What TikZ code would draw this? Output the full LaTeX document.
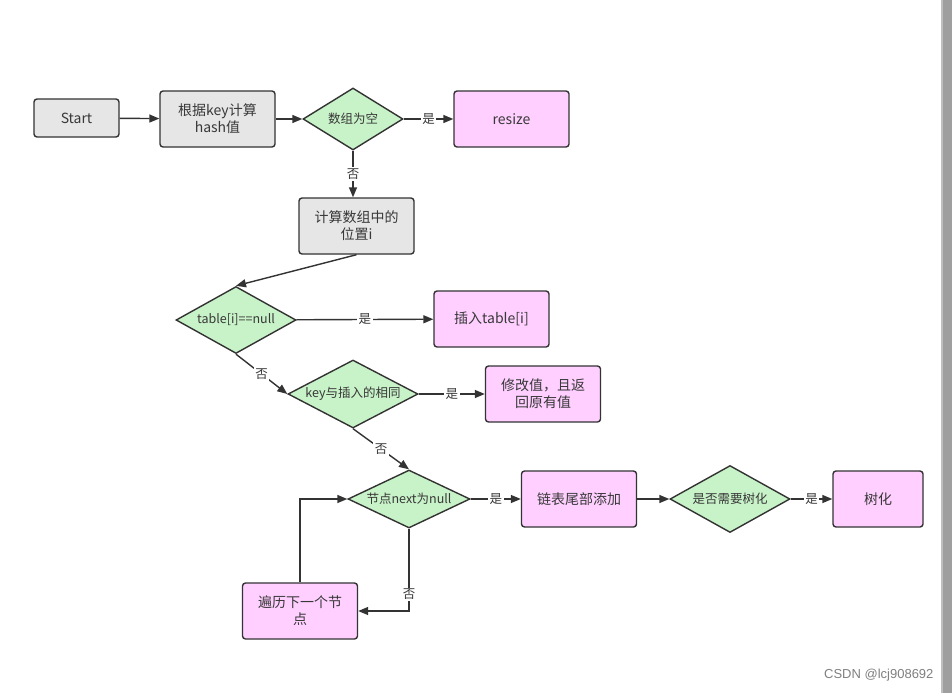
\documentclass[tikz,border=0pt]{standalone}
\usepackage{fontspec}
\newfontfamily\cjk{Noto Sans CJK SC}
\newfontfamily\wm{Liberation Sans}
\usetikzlibrary{shapes.geometric,arrows.meta}
\definecolor{lc}{HTML}{333333}
\definecolor{gfill}{HTML}{E6E6E6}
\definecolor{pfill}{HTML}{FFD0FF}
\definecolor{dfill}{HTML}{C8F2C8}
\definecolor{tc}{HTML}{383838}
\begin{document}
\begin{tikzpicture}[x=1pt,y=-1pt,
  box/.style={draw=lc, line width=1.4pt, rounded corners=3pt, minimum width=115pt, minimum height=56pt, align=center, inner sep=2pt, text=tc, font=\cjk\fontsize{14}{17}\selectfont},
  gbox/.style={box, fill=gfill},
  pbox/.style={box, fill=pfill},
  dia/.style={diamond, draw=lc, fill=dfill, line width=1.4pt, aspect=2.2, inner sep=0pt, text=tc, font=\cjk\fontsize{12.5}{14}\selectfont},
  arr/.style={draw=lc, line width=1.4pt, -{Triangle[length=10pt,width=8pt]}},
  lbl/.style={fill=white, inner sep=1.5pt, text=tc, font=\cjk\fontsize{12.5}{14}\selectfont}
]
\useasboundingbox (0,0) rectangle (952,693);
\fill[white] (0,0) rectangle (952,693);
\fill[gray!75] (943,0) rectangle (952,693);
\fill[gray!50] (941,0) rectangle (943,693);

\node[gbox, minimum width=85pt, minimum height=38pt] (start) at (76.5,118) {Start};
\node[gbox] (hash) at (217.5,119) {根据key计算\\hash值};
\node[dia, minimum width=100pt, minimum height=62pt] (empty) at (353,119) {数组为空};
\node[pbox] (resize) at (511.5,119) {resize};
\node[gbox] (pos) at (356.5,226) {计算数组中的\\位置i};
\node[dia, minimum width=120pt, minimum height=67pt] (tnull) at (236,320) {table[i]==null};
\node[pbox] (ins) at (491.5,319) {插入table[i]};
\node[dia, minimum width=130pt, minimum height=68pt] (same) at (353,394) {key与插入的相同};
\node[pbox] (mod) at (543,394) {修改值，且返\\回原有值};
\node[dia, minimum width=122pt, minimum height=58pt] (nnull) at (409,499) {节点next为null};
\node[pbox] (tail) at (579,499) {链表尾部添加};
\node[dia, minimum width=120pt, minimum height=67pt] (tree) at (730,499) {是否需要树化};
\node[pbox, minimum width=90pt] (treeify) at (878,499) {树化};
\node[pbox] (next) at (300,611) {遍历下一个节\\点};

\draw[arr] (start) -- (hash);
\draw[arr] (hash) -- (empty);
\draw[arr] (empty) -- node[lbl]{是} (resize);
\draw[arr] (empty.south) -- node[lbl]{否} (pos.north -| empty.south);
\draw[arr] (pos.south) -- (tnull.north);
\draw[arr] (tnull) -- node[lbl]{是} (ins);
\draw[arr] (tnull.south) -- node[lbl]{否} (same.west);
\draw[arr] (same) -- node[lbl]{是} (mod);
\draw[arr] (same.south) -- node[lbl]{否} (nnull.north);
\draw[arr] (nnull) -- node[lbl]{是} (tail);
\draw[arr] (tail) -- (tree);
\draw[arr] (tree) -- node[lbl]{是} (treeify);
\draw[arr] (nnull.south) |- node[lbl, pos=0.4]{否} (next.east);
\draw[arr] (next.north) |- (nnull.west);

\node[anchor=east, text=gray, font=\wm\fontsize{13}{15}\selectfont] (wmark) at (937,675) {CSDN @lcj908692};
\end{tikzpicture}
\end{document}
